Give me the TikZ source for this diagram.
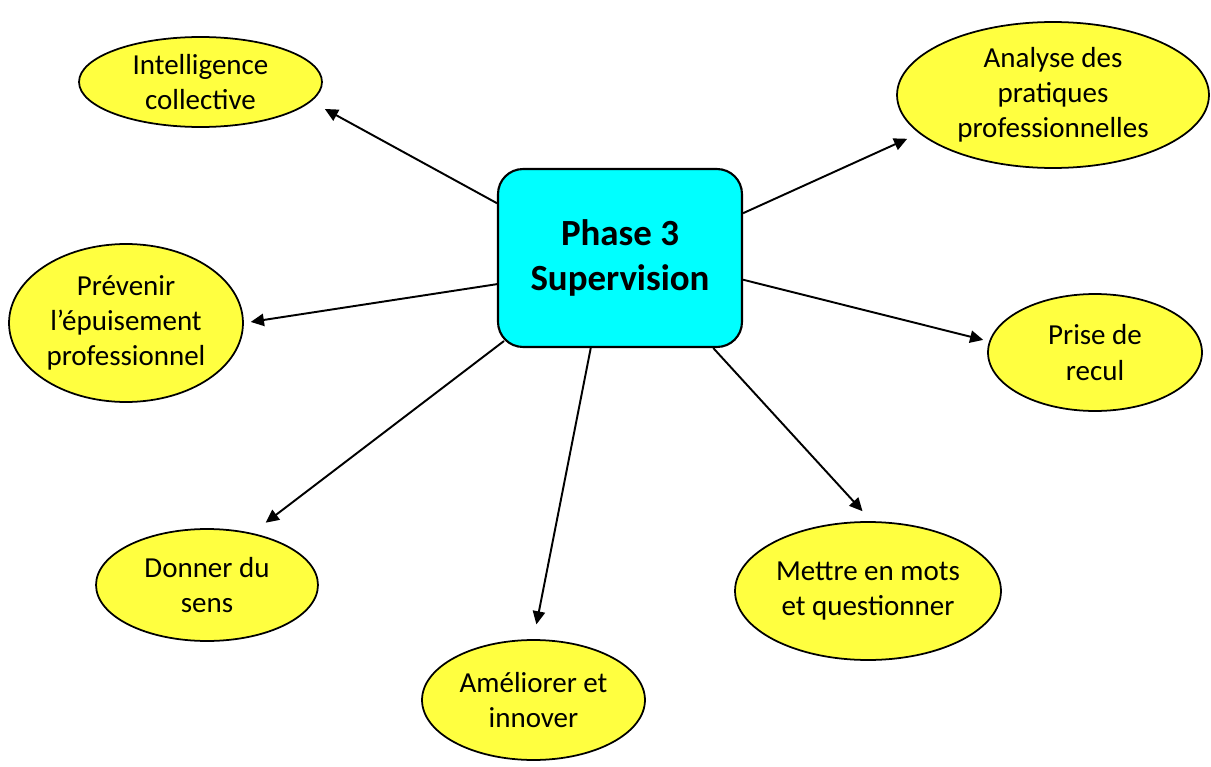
\documentclass[tikz,border=0pt]{standalone}
\usepackage{fontspec}
\setmainfont{Carlito}
\usetikzlibrary{arrows.meta,shapes.geometric}
\definecolor{jaune}{RGB}{255,255,64}
\definecolor{cyanvif}{RGB}{0,255,255}
\tikzset{
	idee/.style={ellipse, draw, line width=1pt, fill=jaune, inner sep=0pt, align=center,
		font=\fontsize{16.5}{20}\selectfont},
	centre/.style={rectangle, draw, line width=1.2pt, rounded corners=0.5cm, fill=cyanvif,
		minimum width=4.88cm, minimum height=3.56cm, align=center,
		font=\fontsize{21}{26}\selectfont\bfseries},
	fleche/.style={line width=1.1pt, -{Triangle[length=7.5pt,width=7pt]}}
}
\begin{document}
\begin{tikzpicture}[x=0.02cm,y=-0.02cm]
			\useasboundingbox (0,0) rectangle (1211,767);
			
			\node[centre] (sup) at (620,258) {Phase 3\\Supervision};
			
			\node[idee, minimum width=4.86cm, minimum height=1.8cm] (intel) at (200.5,82) {Intelligence\\collective};
			\node[idee, minimum width=6.24cm, minimum height=2.92cm] (ana) at (1053,95) {Analyse des\\pratiques\\professionnelles};
			\node[idee, minimum width=4.68cm, minimum height=3.16cm] (prev) at (126,323) {Prévenir\\l’épuisement\\professionnel};
			\node[idee, minimum width=4.28cm, minimum height=2.34cm] (prise) at (1095,352.5) {Prise de\\recul};
			\node[idee, minimum width=4.44cm, minimum height=2.24cm] (sens) at (207,585) {Donner du\\sens};
			\node[idee, minimum width=5.32cm, minimum height=2.76cm] (mots) at (868,591) {Mettre en mots\\et questionner};
			\node[idee, minimum width=4.46cm, minimum height=2.4cm] (ameli) at (533.5,700) {Améliorer et\\innover};
			
			\draw[fleche, shorten >=0.31cm] (sup.156.5) -- (intel.-10.9);
			\draw[fleche, shorten >=0.26cm] (sup.20.5) -- (ana.-164.3);
			\draw[fleche, shorten >=0.14cm] (sup.-168.4) -- (prev.0.5);
			\draw[fleche, shorten >=0.12cm] (sup.-10.6) -- (prise.174);
			\draw[fleche, shorten >=0.34cm] ([shift={(7,-7)}]sup.south west) -- (sens.49.9);
			\draw[fleche, shorten >=0.3cm] (sup.-108.6) -- (ameli.90.4);
			\draw[fleche, shorten >=0.27cm] (sup.-44.7) -- (mots.87.3);
\end{tikzpicture}
\end{document}
